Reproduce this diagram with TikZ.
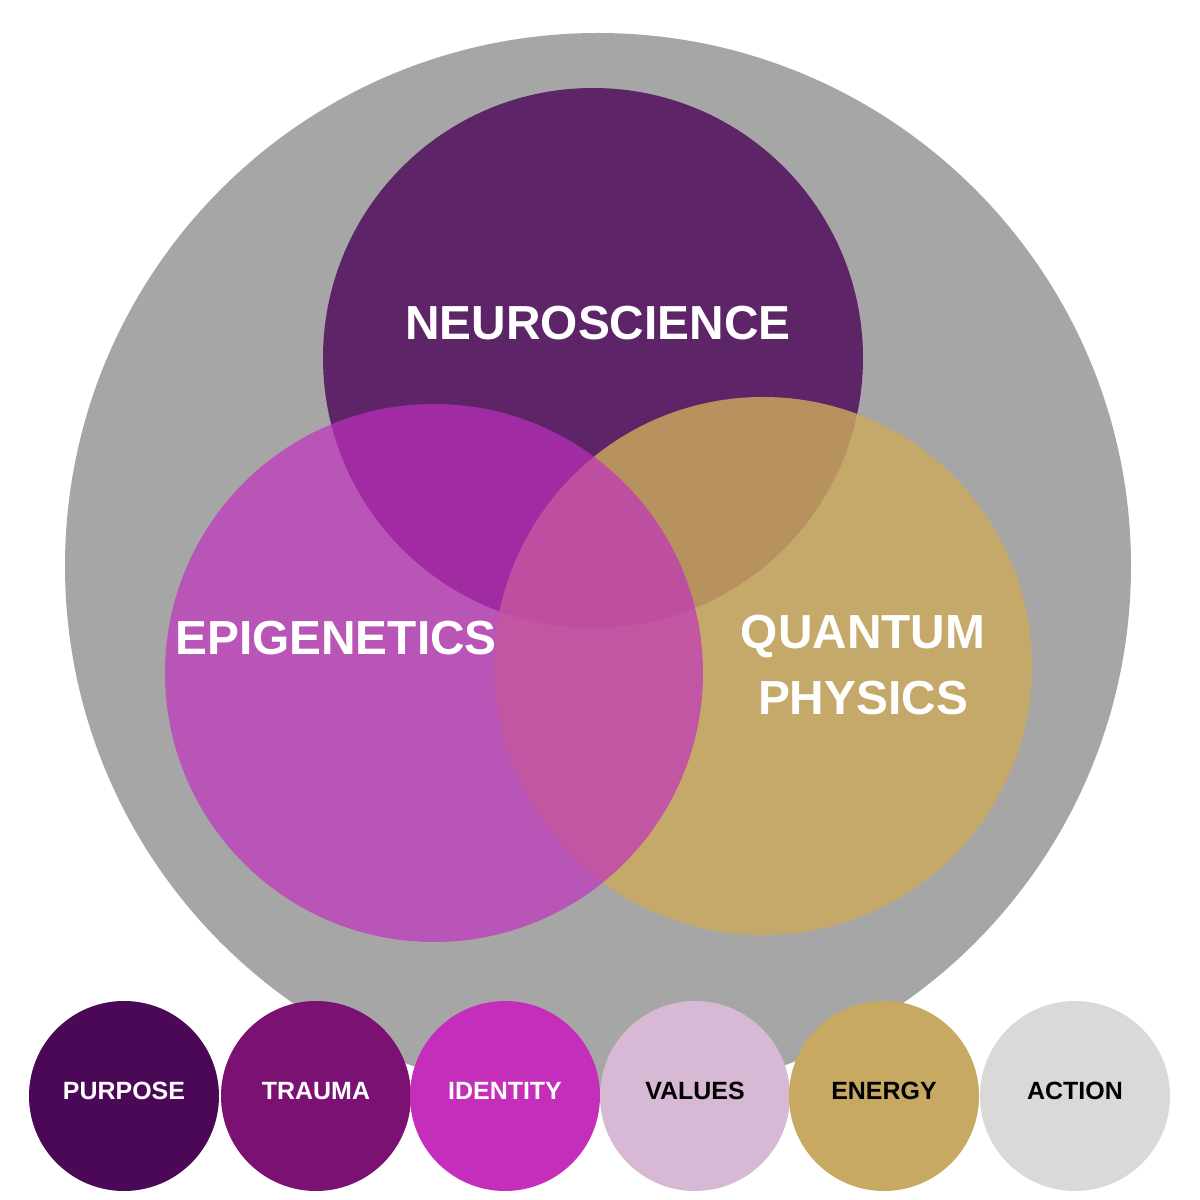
\documentclass[tikz,border=0pt]{standalone}
\usepackage{fontspec}
\setmainfont{Liberation Sans}
\definecolor{Backdrop}{HTML}{A6A6A6}
\definecolor{Neuro}{HTML}{5D2567}
\definecolor{Epi}{HTML}{C22FBE}
\definecolor{Quantum}{HTML}{CCAA5E}
\definecolor{Purpose}{HTML}{4B0857}
\definecolor{Trauma}{HTML}{7A1173}
\definecolor{Identity}{HTML}{C42EBB}
\definecolor{Values}{HTML}{D7B8D5}
\definecolor{Energy}{HTML}{C8A962}
\definecolor{Action}{HTML}{D9D9D9}
\begin{document}
\begin{tikzpicture}[every node/.style={font=\bfseries},big/.style={font=\fontsize{13.6}{18.8}\selectfont\bfseries,text=white,align=center},pill/.style={circle,minimum size=1.9cm,inner sep=0pt,text depth=0.1cm,font=\fontsize{7.1}{8.5}\selectfont\bfseries}]
\fill[white] (0,0) rectangle (12,12);
\fill[Backdrop] (5.98,6.34) circle (5.33);
\fill[Neuro] (5.93,8.42) circle (2.70);
\fill[Quantum,opacity=0.82] (7.63,5.34) circle (2.69);
\fill[Epi,opacity=0.68] (4.34,5.27) circle (2.69);
\node[big] (neuro) at (5.98,8.77) {NEUROSCIENCE};
\node[big] (epi) at (3.36,5.62) {EPIGENETICS};
\node[big] (quantum) at (8.63,5.35) {QUANTUM\\PHYSICS};
\foreach \n/\x/\c/\t/\l in {purpose/1.24/Purpose/white/PURPOSE,trauma/3.16/Trauma/white/TRAUMA,identity/5.05/Identity/white/IDENTITY,values/6.95/Values/black/VALUES,energy/8.84/Energy/black/ENERGY,action/10.75/Action/black/ACTION}
  {\node[pill,fill=\c,text=\t] (\n) at (\x,1.04) {\l};}
\end{tikzpicture}
\end{document}
